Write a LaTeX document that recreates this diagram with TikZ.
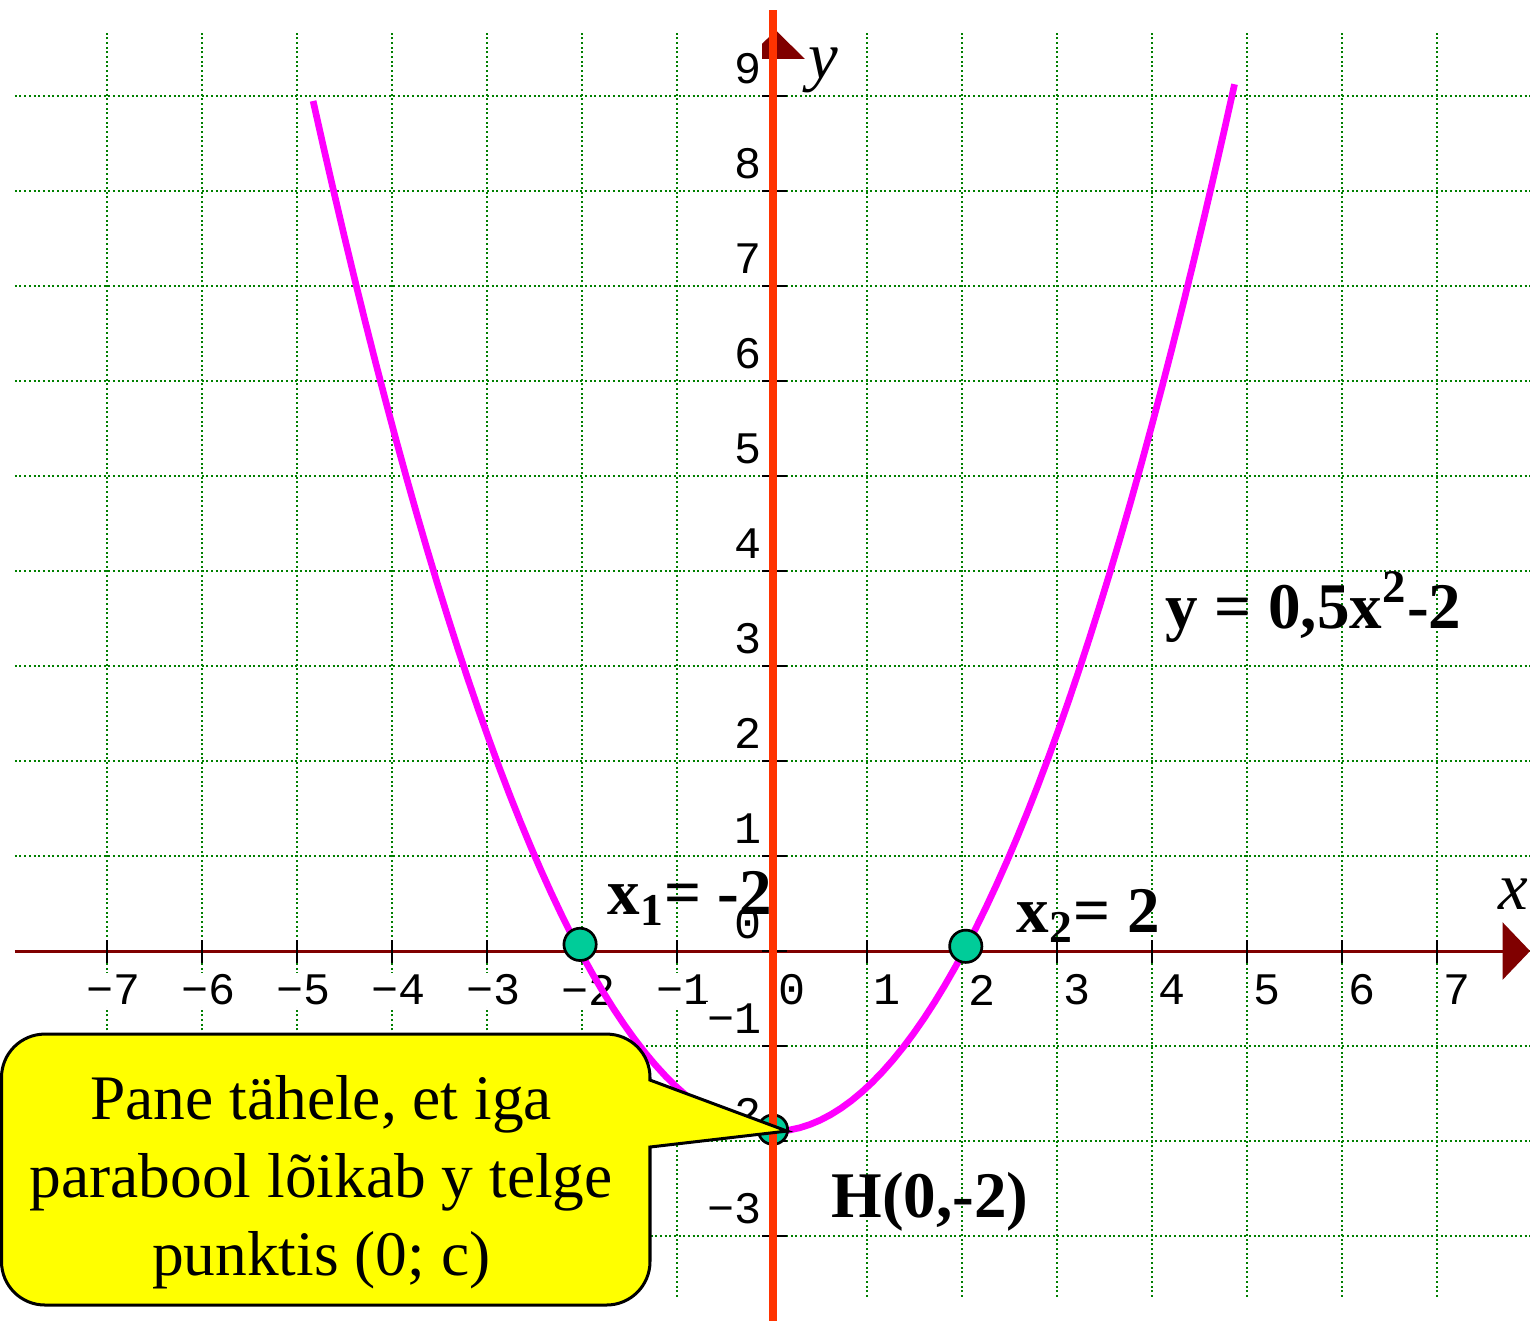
\documentclass[tikz,border=0pt]{standalone}
\usepackage{fontspec}
\setmainfont{Liberation Serif}
\newfontfamily\tickfont{Liberation Mono}
\definecolor{gridgreen}{RGB}{0,128,0}
\definecolor{axisred}{RGB}{128,0,0}
\definecolor{yaxisorange}{RGB}{255,51,0}
\definecolor{curvemagenta}{RGB}{255,0,255}
\definecolor{pointteal}{RGB}{0,204,153}
\definecolor{calloutyellow}{RGB}{255,255,0}
\usetikzlibrary{arrows.meta}
\newcommand{\signednum}[1]{\ifnum#1<0 \textminus\number\numexpr-#1\relax\else#1\fi}
\tikzset{
  gridline/.style={gridgreen, line width=0.6pt, dash pattern=on 0.6pt off 0.8pt},
  ticklabel/.style={fill=white, inner sep=0.5pt, anchor=east, font=\tickfont\fontsize{13.5}{16}\selectfont},
  tickmark/.style={black, line width=0.8pt},
  zeropoint/.style={circle, draw=black, fill=pointteal, line width=0.8pt, minimum size=0.34cm, inner sep=0pt},
  boldlabel/.style={anchor=base west, inner sep=0pt, font=\fontsize{19.5}{23}\selectfont\bfseries}
}

\begin{document}
\begin{tikzpicture}
  \useasboundingbox (-8.126,-3.884) rectangle (7.979,10.011);
  % Grid
  \foreach \i in {-7,...,7} \draw[gridline] (\i,-3.64) -- (\i,9.69);
  \foreach \k in {-3,...,9} \draw[gridline] (-7.97,\k) -- (7.98,\k);
  % Tick labels
  \foreach \i in {-7,...,7} \node[ticklabel] (xl\i) at (\i+0.38,-0.41) {\signednum{\i}};
  \foreach \k in {-3,...,9} \node[ticklabel] (yl\k) at (-0.08,\k+0.29) {\signednum{\k}};
  % x axis
  \coordinate (xstart) at (-7.97,0);
  \coordinate (xend) at (7.98,0);
  \draw[axisred, line width=0.9pt, -{Triangle[length=0.29cm, width=0.6cm]}] (xstart) -- (xend);
  \foreach \i in {-7,...,7} \draw[tickmark] (\i,-0.13) -- (\i,0.12);
  \foreach \k in {-3,...,9} \draw[tickmark] (-0.1,\k) -- (0.16,\k);
  % Parabola
  \draw[curvemagenta, line width=2pt, domain=-4.83:4.87, samples=90] plot (\x, {0.465*\x*\x-1.9});
  % Points
  \node[zeropoint] (x1pt) at (-2.02,0.07) {};
  \node[zeropoint] (x2pt) at (2.04,0.05) {};
  \node[zeropoint, minimum size=0.31cm] (hpt) at (0.01,-1.88) {};
  % y axis
  \fill[axisred] (-0.105,9.39) -- (-0.105,9.55) -- (0.042,9.69) -- (0.347,9.39) -- cycle;
  \coordinate (ystart) at (0.01,-3.95);
  \coordinate (yend) at (0.01,9.905);
  \draw[yaxisorange, line width=2.4pt] (ystart) -- (yend);
  % Callout
  \coordinate (tip) at (0.158,-1.895);
  \filldraw[fill=calloutyellow, draw=black, line width=0.9pt] (-1.284,-1.358) [rounded corners=13pt] -- (-1.284,-0.874) -- (-8.11,-0.874) -- (-8.11,-3.726) -- (-1.284,-3.726) [sharp corners] -- (-1.284,-2.063) -- (tip) -- cycle;
  \node[align=center, inner sep=0pt, font=\fontsize{19}{23.4}\selectfont] (note) at (-4.745,-2.437) {Pane tähele, et iga\\parabool lõikab y telge\\punktis (0; c)};
  % Labels
  \node[boldlabel] (eq) at (4.14,3.40) {y = 0,5x\textsuperscript{\fontsize{14}{14}\selectfont 2}-2};
  \node[boldlabel] (x1lab) at (-1.737,0.38) {x\textsubscript{1}= -2};
  \node[boldlabel] (x2lab) at (2.57,0.20) {x\textsubscript{2}= 2};
  \node[boldlabel] (hlab) at (0.62,-2.80) {H(0,-2)};
  \node[font=\fontsize{20}{24}\selectfont\itshape] (ylab) at (0.54,9.27) {y};
  \node[font=\fontsize{20}{24}\selectfont\itshape] (xlab) at (7.8,0.6) {x};
\end{tikzpicture}
\end{document}
